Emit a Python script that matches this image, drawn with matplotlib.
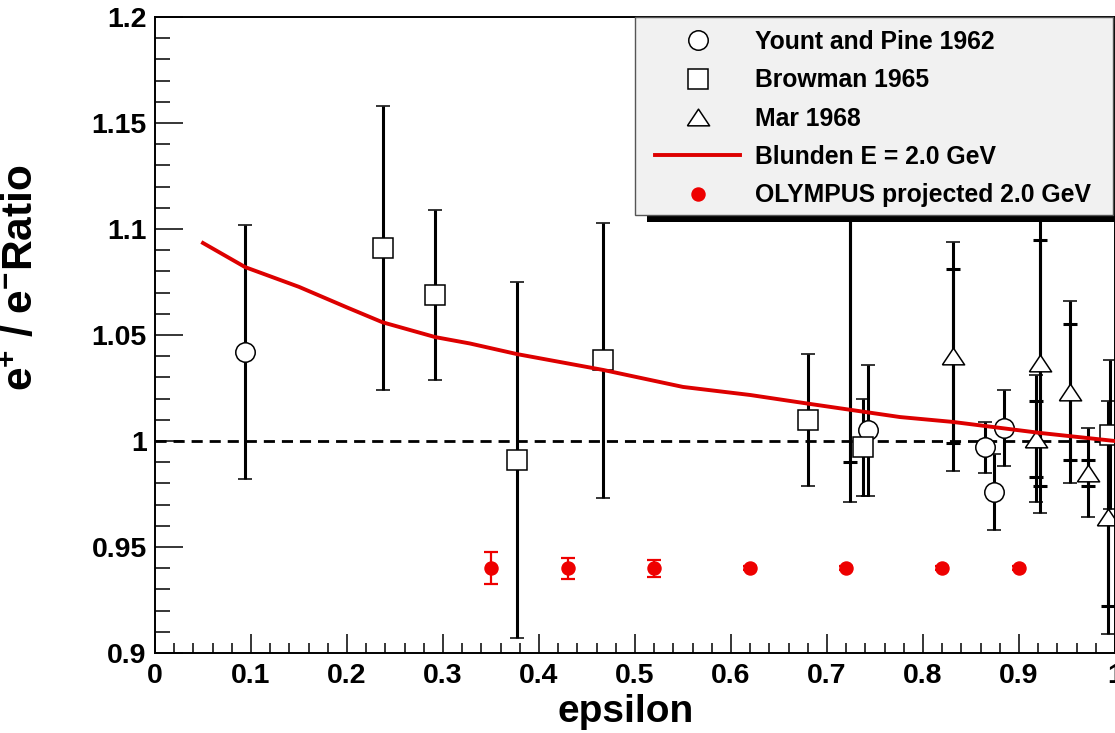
import matplotlib
matplotlib.use("Agg")
import matplotlib.pyplot as plt
import numpy as np
from matplotlib.lines import Line2D
from matplotlib.patches import Rectangle

plt.rcParams['font.family'] = ['Liberation Sans', 'DejaVu Sans']
plt.rcParams['font.weight'] = 'bold'
plt.rcParams['mathtext.fontset'] = 'custom'
plt.rcParams['mathtext.rm'] = 'Liberation Sans:bold'
plt.rcParams['mathtext.it'] = 'Liberation Sans:bold'
plt.rcParams['mathtext.bf'] = 'Liberation Sans:bold'

# Yount and Pine 1962 (open circles)
yount_x = [0.094, 0.743, 0.865, 0.874, 0.884]
yount_y = [1.042, 1.005, 0.997, 0.976, 1.006]
yount_err = [0.060, 0.031, 0.012, 0.018, 0.018]

# Browman 1965 (open squares)
browman_x = [0.237, 0.292, 0.377, 0.467, 0.680, 0.738, 0.995]
browman_y = [1.091, 1.069, 0.991, 1.038, 1.010, 0.997, 1.003]
browman_err = [0.067, 0.040, 0.084, 0.065, 0.031, 0.023, 0.035]

# Mar 1968 (open triangles), total and inner errors
mar_x = [0.724, 0.831, 0.918, 0.922, 0.953, 0.972, 0.993]
mar_y = [1.161, 1.040, 1.001, 1.037, 1.023, 0.985, 0.964]
mar_err = [0.190, 0.054, 0.030, 0.071, 0.043, 0.021, 0.055]
mar_err_inner = [0.171, 0.041, 0.018, 0.058, 0.032, 0.006, 0.042]

# Blunden E = 2.0 GeV curve
blunden_x = [0.05, 0.094, 0.15, 0.20, 0.237, 0.292, 0.328, 0.377, 0.467,
             0.55, 0.62, 0.682, 0.776, 0.831, 0.922, 1.0]
blunden_y = [1.0934, 1.082, 1.0727, 1.063, 1.056, 1.049, 1.046, 1.041, 1.0335,
             1.0255, 1.0217, 1.0175, 1.0113, 1.009, 1.0038, 1.0]

# OLYMPUS projected 2.0 GeV
oly_x = [0.35, 0.43, 0.52, 0.62, 0.72, 0.82, 0.90]
oly_y = [0.94, 0.94, 0.94, 0.94, 0.94, 0.94, 0.94]
oly_err = [0.0075, 0.005, 0.004, 0.001, 0.001, 0.001, 0.001]

x_ticks = [0, 0.1, 0.2, 0.3, 0.4, 0.5, 0.6, 0.7, 0.8, 0.9, 1.0]
x_tick_labels = ['0', '0.1', '0.2', '0.3', '0.4', '0.5', '0.6', '0.7', '0.8', '0.9', '1']
y_ticks = [0.9, 0.95, 1.0, 1.05, 1.1, 1.15, 1.2]
y_tick_labels = ['0.9', '0.95', '1', '1.05', '1.1', '1.15', '1.2']

legend_labels = ['Yount and Pine 1962', 'Browman 1965', 'Mar 1968',
                 'Blunden E = 2.0 GeV', 'OLYMPUS projected 2.0 GeV']

W, H = 1115, 733
fig = plt.figure(figsize=(W / 100, H / 100), dpi=100)
ax = fig.add_axes([155 / W, (H - 653) / H, 960 / W, 636 / H])

# flattened open triangle like the ROOT marker
tri = [(-1, -0.75), (1, -0.75), (0, 0.75), (-1, -0.75)]
ms = 14
ebar = dict(color='black', elinewidth=2.2, capsize=4.7, capthick=2.2, ls='none')
mk = dict(mfc='white', mec='black', mew=1.1, ms=ms)
mk_tri = dict(mfc='white', mec='black', mew=1.1, ms=16)

ax.axhline(1.0, color='black', lw=2.0, dashes=(4, 2.5), zorder=1)

ax.errorbar(mar_x, mar_y, yerr=mar_err_inner, fmt='none', zorder=2, **ebar)
ax.errorbar(yount_x, yount_y, yerr=yount_err, fmt='o', zorder=2, **ebar, **mk)
ax.errorbar(browman_x, browman_y, yerr=browman_err, fmt='s', zorder=2, **ebar, **mk)
ax.errorbar(mar_x, mar_y, yerr=mar_err, marker=tri, zorder=2, **ebar, **mk_tri)

ax.plot(blunden_x, blunden_y, color='#dd0000', lw=2.8, zorder=3)
ax.errorbar(oly_x, oly_y, yerr=oly_err, fmt='o', color='#ee0000', ms=9.4,
            elinewidth=1.6, capsize=4.7, capthick=1.6, zorder=3)

ax.set_xlim(0, 1)
ax.set_ylim(0.9, 1.2)
ax.set_xticks(x_ticks)
ax.set_xticklabels(x_tick_labels)
ax.set_yticks(y_ticks)
ax.set_yticklabels(y_tick_labels)
ax.set_xticks(np.arange(0, 1.0001, 0.02), minor=True)
ax.set_yticks(np.arange(0.9, 1.2001, 0.01), minor=True)
ax.tick_params(axis='both', which='both', direction='in', width=1.1,
               labelsize=20.5, top=False, right=False)
ax.tick_params(axis='y', which='major', length=20, pad=6)
ax.tick_params(axis='y', which='minor', length=11)
ax.tick_params(axis='x', which='major', length=14, pad=7)
ax.tick_params(axis='x', which='minor', length=7)
for sp in ax.spines.values():
    sp.set_linewidth(1.4)

ax.set_xlabel('epsilon', fontsize=28, fontweight='bold')
ax.xaxis.set_label_coords(0.49, -0.064)
ax.set_ylabel(r'e$^{+}$ / e$^{-}$Ratio', fontsize=30.5, fontweight='bold')
ax.yaxis.set_label_coords(-0.118, 0.59)

# legend box with drop shadow
fig.patches.append(Rectangle((647 / W, 1 - 222 / H), 478 / W, 198 / H,
                             transform=fig.transFigure, facecolor='black',
                             edgecolor='none', zorder=4))
fig.patches.append(Rectangle((635 / W, 1 - 215 / H), 478 / W, 198 / H,
                             transform=fig.transFigure, facecolor='#f1f1f1',
                             edgecolor='#555555', lw=1.0, zorder=4))

handles = [
    Line2D([], [], ls='none', marker='o', **mk),
    Line2D([], [], ls='none', marker='s', **mk),
    Line2D([], [], ls='none', marker=tri, **mk_tri),
    Line2D([], [], color='#dd0000', lw=2.8),
    Line2D([], [], ls='none', marker='o', color='#ee0000', ms=9.4),
]
leg = fig.legend(handles, legend_labels, loc='upper left',
                 bbox_to_anchor=(655 / W, 1 - 30 / H), bbox_transform=fig.transFigure,
                 frameon=False, borderpad=0, borderaxespad=0,
                 handlelength=3.45, handletextpad=0.6, labelspacing=0.58,
                 numpoints=1, prop={'weight': 'bold', 'size': 17.8})
leg.set_zorder(5)

fig.savefig('out.png', dpi=100)
